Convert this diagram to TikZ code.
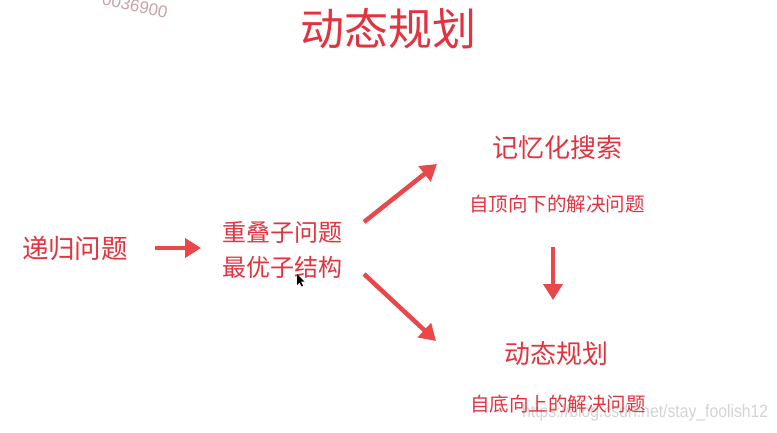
\documentclass[tikz,border=0pt]{standalone}
\usepackage{fontspec}
\newfontfamily\cjk{Noto Sans CJK SC}
\setmainfont{Liberation Sans}
\usetikzlibrary{arrows.meta}
\definecolor{txtred}{HTML}{E2343F}
\definecolor{arrred}{HTML}{E9474A}
\definecolor{wmgray}{HTML}{D4D4D4}
\definecolor{wmpink}{HTML}{C9A4A4}
\tikzset{
  lbl/.style={inner sep=0pt, text=txtred, font=\cjk},
  fatarrow/.style={draw=arrred, line width=4.5pt, -{Triangle[length=16pt,width=19pt]}},
}
\begin{document}
\begin{tikzpicture}[x=1pt,y=-1pt]
\useasboundingbox[fill=white] (0,0) rectangle (777,433);
% watermarks
\node[text=wmpink, font=\fontsize{17}{17}\selectfont, rotate=-12, inner sep=0pt] (wm1) at (135,6) {0036900};
\node[text=wmgray, font=\fontsize{18}{18}\selectfont, inner sep=0pt, anchor=west, xscale=0.875] (wm2) at (522,413) {https://blog.csdn.net/stay\_foolish12};
% texts
\node[lbl, font=\cjk\fontsize{44}{44}\selectfont] (title) at (388,29) {动态规划};
\node[lbl, font=\cjk\fontsize{26.5}{27}\selectfont] (rec) at (75,248) {递归问题};
\node[lbl, font=\cjk\fontsize{24}{25}\selectfont] (ov) at (282,232) {重叠子问题};
\node[lbl, font=\cjk\fontsize{24}{25}\selectfont] (op) at (282,267) {最优子结构};
\node[lbl, font=\cjk\fontsize{26}{27}\selectfont] (memo) at (557,148) {记忆化搜索};
\node[lbl, font=\cjk\fontsize{19.5}{20}\selectfont] (td) at (557,204) {自顶向下的解决问题};
\node[lbl, font=\cjk\fontsize{26}{27}\selectfont] (dp) at (556,354) {动态规划};
\node[lbl, font=\cjk\fontsize{19.5}{20}\selectfont] (bu) at (558,404) {自底向上的解决问题};
% arrow endpoints
\coordinate (a1s) at (155,248);
\coordinate (a1e) at (201,248);
\coordinate (a2s) at (364,222);
\coordinate (a2e) at (437,164);
\coordinate (a3s) at (364,274);
\coordinate (a3e) at (436,341);
\coordinate (a4s) at (553,247);
\coordinate (a4e) at (553,300);
\draw[fatarrow] (a1s) -- (a1e);
\draw[fatarrow] (a2s) -- (a2e);
\draw[fatarrow] (a3s) -- (a3e);
\draw[fatarrow] (a4s) -- (a4e);
% cursor
\coordinate (cur) at (297,274);
\fill[black] (cur) -- ++(0,11) -- ++(2.5,-2.5) -- ++(2,4) -- ++(1.5,-0.8) -- ++(-2,-4) -- ++(3.5,0) -- cycle;
\end{tikzpicture}
\end{document}
